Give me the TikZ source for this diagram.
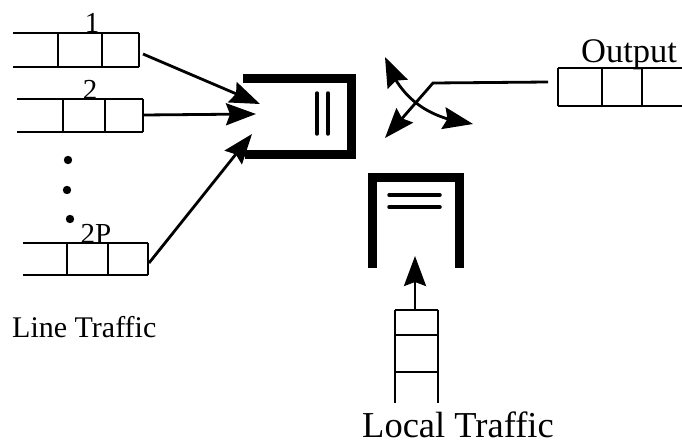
\documentclass[tikz,border=0pt]{standalone}
\usepackage{fontspec}
\setmainfont{Liberation Serif}
\usetikzlibrary{arrows.meta,bending}

\tikzset{
  bigtip/.tip={Stealth[length=30pt,width=22pt,inset=4pt,flex]},
  queue/.style={line width=2pt},
  wall/.style={line width=9pt, line join=miter, line cap=butt},
  bar/.style={line width=3.5pt, line cap=round},
  flow/.style={line width=2.8pt, -{Stealth[length=30pt,width=22pt,inset=4pt]}},
  lbl/.style={font=\fontsize{29}{31}\selectfont, inner sep=0pt, anchor=base},
  caption/.style={inner sep=0pt, anchor=base west}
}

\begin{document}
\begin{tikzpicture}[x=1pt,y=-1pt]
\useasboundingbox (0,0) rectangle (682,444);

% ---- input line queues (open at the left end) ----
% queue 1
\draw[queue] (13,33) -- (139,33) (13,67) -- (139,67)
             (58,33) -- (58,67) (102,33) -- (102,67) (139,33) -- (139,67);
\node[lbl] (l1) at (92,33) {1};
% queue 2
\draw[queue] (17,99) -- (143,99) (17,132) -- (143,132)
             (63,99) -- (63,132) (105,99) -- (105,132) (143,99) -- (143,132);
\node[lbl] (l2) at (90,99) {2};
% queue 2P
\draw[queue] (23,243) -- (148,243) (23,275) -- (148,275)
             (67,243) -- (67,275) (108,243) -- (108,275) (148,243) -- (148,275);
\node[lbl] (l3) at (96,243) {2P};

% ellipsis dots
\fill (68,160) circle (4.2) (67,190) circle (4.2) (70,219) circle (4.2);

% ---- line buffer (open towards the inputs) ----
\draw[wall] (243,78) -- (351,78) -- (351,154) -- (245,154);
\draw[bar] (317,93) -- (317,134) (328,93) -- (328,134);

% connector end points
\coordinate (q1) at (143,54);
\coordinate (q2) at (143,115);
\coordinate (q3) at (149,263);
\coordinate (in1) at (260,104);
\coordinate (in2) at (256,114);
\coordinate (in3) at (252,134);

\draw[flow] (q1) -- (in1);
\draw[flow] (q2) -- (in2);
\draw[flow] (q3) -- (in3);

% ---- local buffer (open at the bottom) ----
\draw[wall] (372,268) -- (372,177) -- (459,177) -- (459,268);
\draw[bar] (389,195) -- (440,195) (389,207) -- (440,207);

% local traffic queue (vertical, open at the bottom)
\draw[queue] (395,310) -- (395,403) (438,310) -- (438,403)
             (395,310) -- (438,310) (395,335) -- (438,335) (395,372) -- (438,372);
\coordinate (lq) at (415,310);
\coordinate (lin) at (415,256);
\draw[flow] (lq) -- (lin);

% ---- switch ----
\coordinate (swa) at (385,57);
\coordinate (swb) at (473,124);
\draw[line width=2.8pt, {bigtip}-{bigtip}]
  (swa) .. controls (400,100) and (430,119) .. (swb);

% ---- output queue ----
\draw[queue] (558,68) -- (682,68) (558,106) -- (682,106)
             (558,68) -- (558,106) (602,68) -- (602,106) (642,68) -- (642,106);
\coordinate (oq) at (548,82);
\coordinate (ok) at (433,83);
\coordinate (sw) at (385,138);
\draw[flow] (oq) -- (ok) -- (sw);
\node[caption, font=\fontsize{34.5}{36}\selectfont] (out) at (581,63) {Output};

% ---- captions ----
\node[caption, font=\fontsize{30}{32}\selectfont] (lt) at (12,337) {Line Traffic};
\node[caption, font=\fontsize{36.5}{38}\selectfont] (lct) at (362,437) {Local Traffic};
\end{tikzpicture}
\end{document}
